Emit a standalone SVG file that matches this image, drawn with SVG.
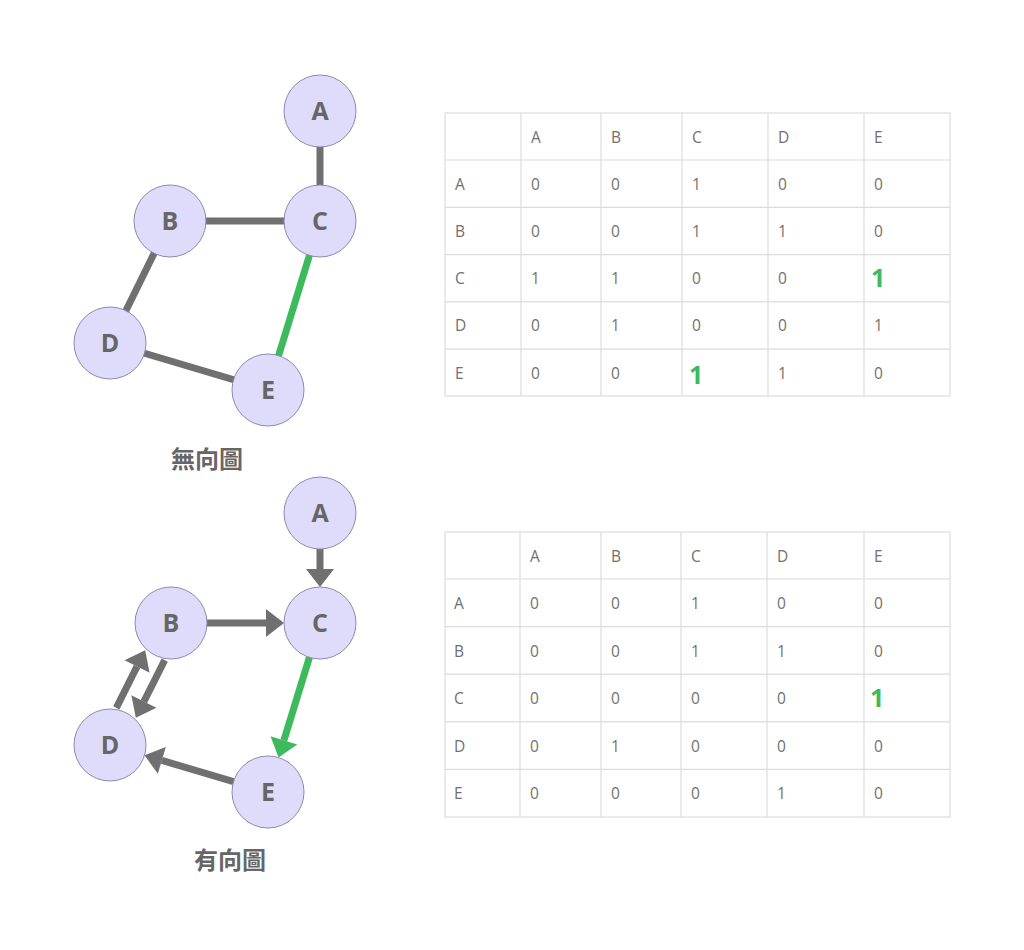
<svg xmlns="http://www.w3.org/2000/svg" width="1024" height="950" viewBox="0 0 1024 950">
<style>
.node circle{fill:#dfdcfb;stroke:#8e89ab;stroke-width:1}
.node text{font-family:"Open Sans","Liberation Sans",sans-serif;font-weight:bold;font-size:25px;fill:#666;text-anchor:middle}
.edge{stroke:#707070;stroke-width:7;fill:none}
.green{stroke:#3dba5c}
.cap{font-family:"Noto Sans CJK TC","Noto Sans CJK SC",sans-serif;font-weight:bold;font-size:24px;fill:#666;text-anchor:middle}
.grid{stroke:#dcdcdc;stroke-width:1.2;fill:none}
.cell{font-family:"Open Sans","Liberation Sans",sans-serif;font-size:15.5px;fill:#707070}
.hl{font-family:"Open Sans","Liberation Sans",sans-serif;font-size:25px;font-weight:bold;fill:#3dba5c}
</style>
<defs>
<marker id="ag" markerUnits="userSpaceOnUse" markerWidth="18" markerHeight="28" refX="0" refY="14" orient="auto" overflow="visible"><path d="M0,0 L18,14 L0,28 Z" fill="#707070"/></marker>
<marker id="agr" markerUnits="userSpaceOnUse" markerWidth="18" markerHeight="28" refX="0" refY="14" orient="auto" overflow="visible"><path d="M0,0 L18,14 L0,28 Z" fill="#3dba5c"/></marker>
</defs>
<rect width="1024" height="950" fill="#ffffff"/>

<!-- Undirected graph -->
<g id="edges-undirected">
<line class="edge" x1="320" y1="111" x2="320" y2="221"/>
<line class="edge" x1="170" y1="221" x2="320" y2="221"/>
<line class="edge" x1="170" y1="221" x2="110" y2="343"/>
<line class="edge" x1="110" y1="343" x2="268" y2="390"/>
<line class="edge green" x1="320" y1="221" x2="268" y2="390"/>
</g>
<g id="u-A" class="node"><circle cx="320" cy="111" r="36"/><text x="320" y="120">A</text></g>
<g id="u-B" class="node"><circle cx="170" cy="221" r="36"/><text x="170" y="230">B</text></g>
<g id="u-C" class="node"><circle cx="320" cy="221" r="36"/><text x="320" y="230">C</text></g>
<g id="u-D" class="node"><circle cx="110" cy="343" r="36"/><text x="110" y="352">D</text></g>
<g id="u-E" class="node"><circle cx="268" cy="390" r="36"/><text x="268" y="399">E</text></g>
<text class="cap" x="207" y="468">無向圖</text>

<!-- Directed graph -->
<g id="edges-directed">
<line class="edge" x1="320" y1="549" x2="320" y2="569" marker-end="url(#ag)"/>
<line class="edge" x1="207" y1="623" x2="266" y2="623" marker-end="url(#ag)"/>
<line class="edge green" x1="309.4" y1="657.4" x2="283.9" y2="740.4" marker-end="url(#agr)"/>
<line class="edge" x1="233.5" y1="781.7" x2="161.8" y2="760.4" marker-end="url(#ag)"/>
<line class="edge" x1="116.3" y1="707.9" x2="137.1" y2="666.4" marker-end="url(#ag)"/>
<line class="edge" x1="164.7" y1="660.1" x2="143.9" y2="701.6" marker-end="url(#ag)"/>
</g>
<g id="d-A" class="node"><circle cx="320" cy="513" r="36"/><text x="320" y="522">A</text></g>
<g id="d-B" class="node"><circle cx="171" cy="623" r="36"/><text x="171" y="632">B</text></g>
<g id="d-C" class="node"><circle cx="320" cy="623" r="36"/><text x="320" y="632">C</text></g>
<g id="d-D" class="node"><circle cx="110" cy="745" r="36"/><text x="110" y="754">D</text></g>
<g id="d-E" class="node"><circle cx="268" cy="792" r="36"/><text x="268" y="801">E</text></g>
<text class="cap" x="230" y="869">有向圖</text>

<!-- Table 1 -->
<g id="table-undirected">
<rect class="grid" x="445" y="113" width="505" height="283"/>
<path class="grid" d="M521,113V396M601,113V396M682,113V396M768,113V396M864,113V396M445,160H950M445,207.3H950M445,254.6H950M445,301.9H950M445,349.2H950"/>
<g class="cell">
<text x="531" y="143">A</text><text x="611" y="143">B</text><text x="692" y="143">C</text><text x="778" y="143">D</text><text x="874" y="143">E</text>
<text x="455" y="190">A</text><text x="531" y="190">0</text><text x="611" y="190">0</text><text x="692" y="190">1</text><text x="778" y="190">0</text><text x="874" y="190">0</text>
<text x="455" y="237">B</text><text x="531" y="237">0</text><text x="611" y="237">0</text><text x="692" y="237">1</text><text x="778" y="237">1</text><text x="874" y="237">0</text>
<text x="455" y="284">C</text><text x="531" y="284">1</text><text x="611" y="284">1</text><text x="692" y="284">0</text><text x="778" y="284">0</text>
<text x="455" y="331">D</text><text x="531" y="331">0</text><text x="611" y="331">1</text><text x="692" y="331">0</text><text x="778" y="331">0</text><text x="874" y="331">1</text>
<text x="455" y="379">E</text><text x="531" y="379">0</text><text x="611" y="379">0</text><text x="778" y="379">1</text><text x="874" y="379">0</text>
</g>
<text class="hl" x="871" y="287">1</text>
<text class="hl" x="689" y="384">1</text>
</g>

<!-- Table 2 -->
<g id="table-directed">
<rect class="grid" x="445" y="532" width="505" height="285"/>
<path class="grid" d="M520,532V817M601,532V817M681,532V817M767,532V817M864,532V817M445,579H950M445,626.6H950M445,674.2H950M445,721.8H950M445,769.4H950"/>
<g class="cell">
<text x="530" y="562">A</text><text x="611" y="562">B</text><text x="691" y="562">C</text><text x="777" y="562">D</text><text x="874" y="562">E</text>
<text x="454" y="609">A</text><text x="530" y="609">0</text><text x="611" y="609">0</text><text x="691" y="609">1</text><text x="777" y="609">0</text><text x="874" y="609">0</text>
<text x="454" y="657">B</text><text x="530" y="657">0</text><text x="611" y="657">0</text><text x="691" y="657">1</text><text x="777" y="657">1</text><text x="874" y="657">0</text>
<text x="454" y="704">C</text><text x="530" y="704">0</text><text x="611" y="704">0</text><text x="691" y="704">0</text><text x="777" y="704">0</text>
<text x="454" y="752">D</text><text x="530" y="752">0</text><text x="611" y="752">1</text><text x="691" y="752">0</text><text x="777" y="752">0</text><text x="874" y="752">0</text>
<text x="454" y="799">E</text><text x="530" y="799">0</text><text x="611" y="799">0</text><text x="691" y="799">0</text><text x="777" y="799">1</text><text x="874" y="799">0</text>
</g>
<text class="hl" x="870" y="707">1</text>
</g>
</svg>
